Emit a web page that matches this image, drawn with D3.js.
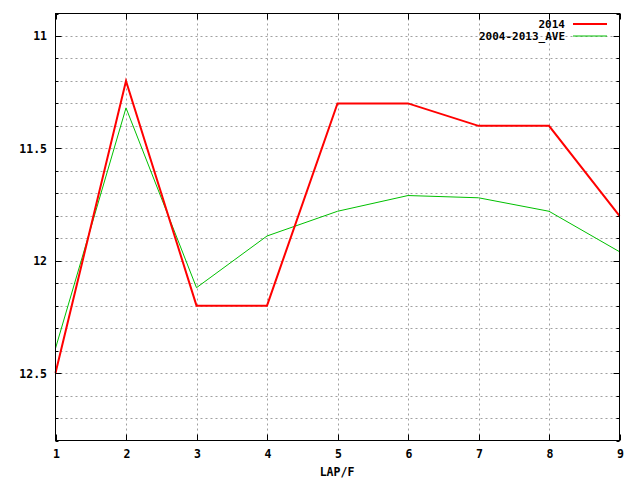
<!DOCTYPE html>
<html><head><meta charset="utf-8">
<script src="https://cdn.jsdelivr.net/npm/d3@7"></script>
<style>body{margin:0;background:#fff}svg{display:block}text{font-family:"DejaVu Sans Mono",monospace;font-weight:bold;font-size:11.5px;fill:#000}</style>
</head><body>
<script>
const laps = [1,2,3,4,5,6,7,8,9];
const series2014 = [12.5,11.2,12.2,12.2,11.3,11.3,11.4,11.4,11.8];
const seriesAve = [12.39,11.32,12.12,11.89,11.78,11.71,11.72,11.78,11.96];
const yTickLabels = [11,11.5,12,12.5];
const yMinorTicks = [10.9,11,11.1,11.2,11.3,11.4,11.5,11.6,11.7,11.8,11.9,12,12.1,12.2,12.3,12.4,12.5,12.6,12.7,12.8];
const seriesNames = ["2014","2004-2013_AVE"];

const W=640,H=480, L=55.5, R=619.5, T=13.5, B=440.5;
const svg = d3.select("body").append("svg").attr("width",W).attr("height",H);
const x = d3.scaleLinear().domain([1,9]).range([L,R]);
const y = d3.scaleLinear().domain([10.9,12.8]).range([T,B]);

const g = svg.append("g");
// grid
g.selectAll(".hg").data(yMinorTicks.slice(1,-1)).enter().append("line")
 .attr("x1",L).attr("x2",R).attr("y1",d=>Math.round(y(d))+0.5).attr("y2",d=>Math.round(y(d))+0.5)
 .attr("stroke","#a0a0a0").attr("stroke-dasharray","2,3");
g.selectAll(".vg").data(laps.slice(1,-1)).enter().append("line")
 .attr("y1",T).attr("y2",B).attr("x1",d=>Math.round(x(d))+0.5).attr("x2",d=>Math.round(x(d))+0.5)
 .attr("stroke","#a0a0a0").attr("stroke-dasharray","2,3");

// ticks
const majorSet = new Set(yTickLabels.map(String));
yMinorTicks.forEach(v=>{
  const len = majorSet.has(String(v)) ? 6 : 3;
  const yy = Math.round(y(v))+0.5;
  g.append("line").attr("x1",L).attr("x2",L+len).attr("y1",yy).attr("y2",yy).attr("stroke","#000");
  g.append("line").attr("x1",R).attr("x2",R-len).attr("y1",yy).attr("y2",yy).attr("stroke","#000");
});
laps.forEach(v=>{
  const xx = Math.round(x(v))+0.5;
  g.append("line").attr("x1",xx).attr("x2",xx).attr("y1",B).attr("y2",B-6).attr("stroke","#000");
  g.append("line").attr("x1",xx).attr("x2",xx).attr("y1",T).attr("y2",T+6).attr("stroke","#000");
});

// labels
g.selectAll(".yl").data(yTickLabels).enter().append("text")
 .attr("x",47).attr("y",d=>y(d)+4.5).attr("text-anchor","end").text(d=>d);
g.selectAll(".xl").data(laps).enter().append("text")
 .attr("x",d=>x(d)+1).attr("y",458).attr("text-anchor","middle").text(d=>d);
svg.append("text").attr("x",337).attr("y",476).attr("text-anchor","middle").text("LAP/F");

// lines
const line = d3.line().x((d,i)=>x(laps[i])).y(d=>y(d));
svg.append("path").datum(seriesAve).attr("d",line).attr("fill","none").attr("stroke","#00c000").attr("stroke-width",1);
svg.append("path").datum(series2014).attr("d",line).attr("fill","none").attr("stroke","#ff0000").attr("stroke-width",2);

// frame
svg.append("rect").attr("x",L).attr("y",T).attr("width",R-L).attr("height",B-T).attr("fill","none").attr("stroke","#000");

// legend
const colors=["#ff0000","#00c000"], widths=[2,1];
seriesNames.forEach((n,i)=>{
  const ly = 24+i*12;
  svg.append("text").attr("x",565).attr("y",ly+4).attr("text-anchor","end").style("font-size","11px").text(n);
  svg.append("line").attr("x1",573).attr("x2",607).attr("y1",ly).attr("y2",ly).attr("stroke",colors[i]).attr("stroke-width",widths[i]);
});
</script>
</body></html>
